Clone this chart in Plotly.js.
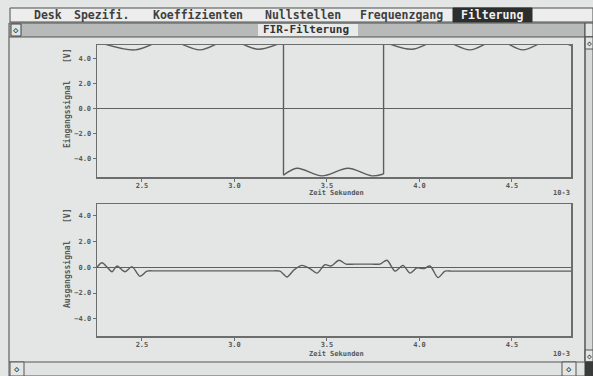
<!DOCTYPE html>
<html><head><meta charset="utf-8">
<script src="https://cdn.plot.ly/plotly-3.0.1.min.js"></script>
<style>html,body{margin:0;padding:0;background:#e3e5e4;} #chart{width:593px;height:376px;}</style>
</head><body><div id="chart"></div>
<script>
// ---- data (time in 10^-3 s); null splits the curve at the square-wave edges ----
const timeIn = [2.257, 2.462, 2.635, 2.814, 2.970, 3.127, 3.265, null, 3.265, 3.265, null, 3.265, 3.338, 3.473, 3.614, 3.743, 3.806, null, 3.806, 3.806, null, 3.806, 3.959, 4.111, 4.273, 4.419, 4.559, 4.705, 4.819];
const inputSignal = [5.3, 4.65, 5.45, 4.65, 5.45, 4.7, 5.3, null, 5.3, -5.3, null, -5.3, -4.75, -5.35, -4.75, -5.35, -5.2, null, -5.2, 5.3, null, 5.3, 4.7, 5.45, 4.65, 5.45, 4.65, 5.45, 5.0];
const timeOut = [2.257, 2.284, 2.316, 2.338, 2.365, 2.408, 2.446, 2.489, 2.527, 2.570, 2.814, 3.138, 3.200, 3.246, 3.284, 3.322, 3.365, 3.408, 3.446, 3.489, 3.522, 3.565, 3.603, 3.650, 3.740, 3.786, 3.824, 3.868, 3.911, 3.949, 3.986, 4.024, 4.057, 4.100, 4.138, 4.180, 4.500, 4.780, 4.819];
const outputSignal = [0.0, 0.35, -0.05, -0.35, 0.1, -0.35, 0.05, -0.7, -0.3, -0.28, -0.28, -0.28, -0.28, -0.3, -0.75, -0.2, 0.15, -0.1, -0.45, 0.2, 0.1, 0.55, 0.25, 0.25, 0.25, 0.25, 0.55, -0.3, 0.15, -0.45, -0.05, -0.1, 0.1, -0.8, -0.3, -0.3, -0.3, -0.3, -0.3];
const xTickValues = [2.5, 3.0, 3.5, 4.0, 4.5];
const yTickValues = [4, 2, 0, -2, -4];
const menuItems = ['Desk', 'Spezifi.', 'Koeffizienten', 'Nullstellen', 'Frequenzgang', 'Filterung'];
const windowTitle = 'FIR-Filterung';
const xLabel = 'Zeit Sekunden';
const xUnit = '10-3';
const yLabels = ['Eingangssignal', 'Ausgangssignal'];
const yUnit = '[V]';

// ---- helpers (pixel -> paper) ----
const W = 593, H = 376;
const px = x => x / W, py = y => 1 - y / H;
const ink = '#5b5d5c', frame = '#6c6e6d';
const mono = 'DejaVu Sans Mono';

function rect(x0, y0, x1, y1, fill, line, lw, layer) {
  return {type: 'rect', xref: 'paper', yref: 'paper', x0: px(x0), x1: px(x1), y0: py(y1), y1: py(y0),
    fillcolor: fill, line: {color: line || 'rgba(0,0,0,0)', width: lw == null ? 1 : lw}, layer: layer || 'below'};
}
function lineSh(x0, y0, x1, y1, color, w) {
  return {type: 'line', xref: 'paper', yref: 'paper', x0: px(x0), x1: px(x1), y0: py(y0), y1: py(y1),
    line: {color: color, width: w || 1}, layer: 'above'};
}
function txt(x, y, t, size, color, opts) {
  return Object.assign({xref: 'paper', yref: 'paper', x: px(x), y: py(y), text: t, showarrow: false,
    xanchor: 'center', yanchor: 'middle', font: {family: mono, size: size, color: color, weight: 'bold'}}, opts || {});
}

const axisCommon = {
  showline: true, mirror: true, linecolor: frame, linewidth: 1.5, showgrid: false,
  ticks: 'outside', ticklen: 3, tickcolor: frame, tickwidth: 1,
  tickfont: {family: mono, size: 7, color: '#555756', weight: 'bold'}, tickformat: '.1f'
};

const traces = [
  {x: timeIn, y: inputSignal, xaxis: 'x', yaxis: 'y', mode: 'lines', connectgaps: false,
   line: {color: ink, width: 1.4, shape: 'spline', smoothing: 0.9}, hoverinfo: 'skip'},
  {x: timeOut, y: outputSignal, xaxis: 'x2', yaxis: 'y2', mode: 'lines',
   line: {color: ink, width: 1.4, shape: 'spline', smoothing: 0.8}, hoverinfo: 'skip'}
];

const menuX = [48, 101, 198, 303, 401, 492];
const annotations = [];
menuItems.forEach((m, i) => annotations.push(txt(menuX[i], 15, m, 11.5, i === 5 ? '#f2f2f2' : '#3e3f3f')));
annotations.push(txt(306, 30, windowTitle, 11, '#333'));
annotations.push(txt(16, 30, '◇', 9, '#333'));
annotations.push(txt(589, 43, '◇', 8, '#333'));
annotations.push(txt(589, 356, '◇', 8, '#333'));
annotations.push(txt(17, 369, '◇', 9, '#333'));
annotations.push(txt(569, 369, '◇', 9, '#333'));
[[193, 56, 114], [354, 216, 274]].forEach((r, i) => {
  annotations.push(txt(336, r[0], xLabel, 7, '#555756'));
  annotations.push(txt(561, r[0], xUnit, 7, '#555756'));
  annotations.push(txt(67, r[1], yUnit, 8, '#555756', {textangle: -90}));
  annotations.push(txt(67, r[2], yLabels[i], 8, '#555756', {textangle: -90}));
});

const shapes = [
  rect(0, 0, 593, 376, '#e4e6e5', null, 0),
  rect(10, 8, 593, 22, '#ecedec', '#4d4f4e', 1),
  rect(453, 8, 532, 22, '#2d2e2e', '#2d2e2e', 1),
  rect(9, 23, 585, 37, '#b7bab9', '#505251', 1),
  rect(11, 24, 21, 36, '#e4e6e5', '#444', 1),
  rect(258, 24, 358, 36, '#e9ebea', null, 0),
  rect(585, 23, 593, 37, '#e4e6e5', '#444', 1),
  rect(585, 37, 593, 362, '#d6d9d8', '#555', 1),
  rect(585, 37, 593, 49, '#e4e6e5', '#555', 1),
  rect(585, 350, 593, 362, '#e4e6e5', '#555', 1),
  rect(9, 362, 593, 376, '#e1e3e2', '#555', 1),
  rect(10, 362, 24, 376, '#e4e6e5', '#555', 1),
  rect(562, 362, 576, 376, '#e4e6e5', '#555', 1),
  rect(585, 362, 593, 376, '#3a3b3b', '#3a3b3b', 1),
  lineSh(9, 37, 9, 362, '#606261', 1.2),
  lineSh(585, 37, 585, 362, '#606261', 1.2)
];

const layout = {
  width: W, height: H, margin: {l: 0, r: 0, t: 0, b: 0},
  paper_bgcolor: '#e4e6e5', plot_bgcolor: '#e8eae9', showlegend: false,
  xaxis: Object.assign({}, axisCommon, {domain: [px(97), px(571)], anchor: 'y', range: [2.257, 4.819], tickvals: xTickValues, zeroline: false, ticklabelstandoff: -2}),
  yaxis: Object.assign({}, axisCommon, {domain: [py(177), py(45)], anchor: 'x', range: [-5.44, 5.04], tickvals: yTickValues,
    zeroline: true, zerolinecolor: '#5f6160', zerolinewidth: 1.3}),
  xaxis2: Object.assign({}, axisCommon, {domain: [px(97), px(571)], anchor: 'y2', range: [2.257, 4.819], tickvals: xTickValues, zeroline: false, ticklabelstandoff: -2}),
  yaxis2: Object.assign({}, axisCommon, {domain: [py(336), py(204)], anchor: 'x2', range: [-5.34, 4.92], tickvals: yTickValues,
    zeroline: true, zerolinecolor: '#5f6160', zerolinewidth: 1.3}),
  shapes: shapes, annotations: annotations
};

Plotly.newPlot('chart', traces, layout, {staticPlot: true, displayModeBar: false});
</script>
</body></html>
